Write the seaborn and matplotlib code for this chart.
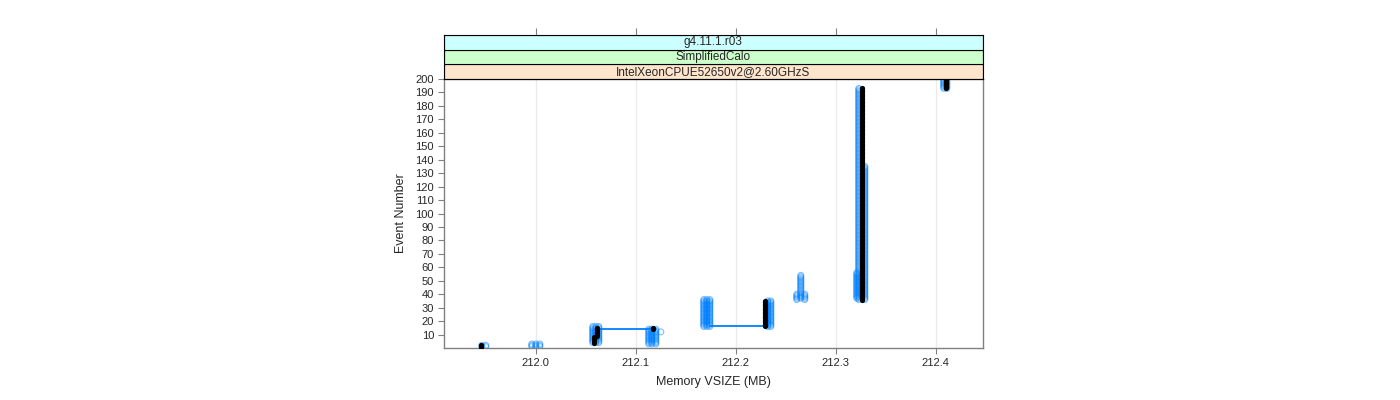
import pandas as pd
import matplotlib
matplotlib.use("Agg")
import matplotlib.pyplot as plt
import seaborn as sns
from matplotlib.patches import Rectangle

# blue samples: memory value and event range it covers
blue_vsize = [211.946, 211.950, 211.996, 212.000, 212.004,
              212.057, 212.060, 212.063, 212.113, 212.116, 212.120, 212.125,
              212.168, 212.171, 212.174, 212.232, 212.235,
              212.261, 212.265, 212.269, 212.321, 212.323, 212.329,
              212.408, 212.411]
blue_first = [1, 1, 1, 1, 1, 4, 4, 4, 3, 3, 3, 12, 16, 16, 16, 16, 16,
              36, 37, 36, 37, 36, 36, 193, 193]
blue_last = [2, 2, 3, 3, 3, 16, 16, 16, 14, 14, 14, 12, 36, 36, 36, 35, 35,
             40, 54, 40, 56, 193, 135, 200, 200]

# black samples
black_vsize = [211.945, 212.058, 212.061, 212.117, 212.229, 212.326, 212.410]
black_first = [1, 4, 9, 14, 16, 36, 193]
black_last = [2, 8, 15, 15, 35, 193, 199]

# horizontal jumps in the blue trace
jump_event = [14, 16]
jump_from = [212.063, 212.174]
jump_to = [212.120, 212.232]

x_ticks = [212.0, 212.1, 212.2, 212.3, 212.4]
y_ticks = list(range(10, 201, 10))
strips = ["IntelXeonCPUE52650v2@2.60GHzS", "SimplifiedCalo", "g4.11.1.r03"]
strip_colors = ["#ffe5cc", "#ccffcc", "#ccffff"]


def expand(vs, first, last):
    rows = []
    for v, a, b in zip(vs, first, last):
        for ev in range(a, b + 1):
            rows.append((v, ev))
    return pd.DataFrame(rows, columns=["vsize", "event"])


blue = expand(blue_vsize, blue_first, blue_last)
black = expand(black_vsize, black_first, black_last)

sns.set_style("white")
plt.rcParams["font.family"] = ["Liberation Sans", "DejaVu Sans"]

fig = plt.figure(figsize=(14, 4), dpi=100)
ax = fig.add_axes([0.317, 0.13, 0.385, 0.6725])
xlim = (211.908, 212.447)

for x in x_ticks:
    ax.axvline(x, color="#ebebeb", lw=1, zorder=0)

for ev, a, b in zip(jump_event, jump_from, jump_to):
    ax.plot([a, b], [ev, ev], color="#0080ff", lw=1.3, zorder=2)

sns.scatterplot(data=blue, x="vsize", y="event", ax=ax, marker="o",
                facecolors="none", edgecolor="#0080ff", linewidth=0.8,
                s=18, alpha=0.5, zorder=3)
sns.scatterplot(data=black, x="vsize", y="event", ax=ax, color="black",
                edgecolor="black", linewidth=0, s=14, zorder=4)

ax.set_xlim(xlim)
ax.set_ylim(0, 200)
ax.set_xticks(x_ticks)
ax.set_xticklabels([f"{x:.1f}" for x in x_ticks])
ax.set_yticks(y_ticks)
ax.tick_params(axis="both", labelsize=8, direction="out", length=4,
               color="#808080", left=True, bottom=True, pad=3)
for sp in ax.spines.values():
    sp.set_color("#808080")
    sp.set_linewidth(1)
ax.set_xlabel("Memory VSIZE (MB)", fontsize=9, labelpad=6)
ax.set_ylabel("Event Number", fontsize=9, labelpad=6)

# strips on top of the panel
sax = fig.add_axes([0.317, 0.8025, 0.385, 0.11])
sax.set_xlim(xlim)
sax.set_ylim(0, 3)
for i, (lab, col) in enumerate(zip(strips, strip_colors)):
    sax.add_patch(Rectangle((xlim[0], i), xlim[1] - xlim[0], 1,
                            facecolor=col, edgecolor="black", lw=0.8))
    sax.text((xlim[0] + xlim[1]) / 2, i + 0.5, lab, ha="center",
             va="center", fontsize=8.5)
sax.set_yticks([])
sax.set_xticks(x_ticks)
sax.tick_params(axis="x", top=True, bottom=False, labeltop=False,
                labelbottom=False, direction="out", length=5,
                color="#808080")
for sp in sax.spines.values():
    sp.set_color("black")
    sp.set_linewidth(0.8)

fig.savefig("out.png", dpi=100)
